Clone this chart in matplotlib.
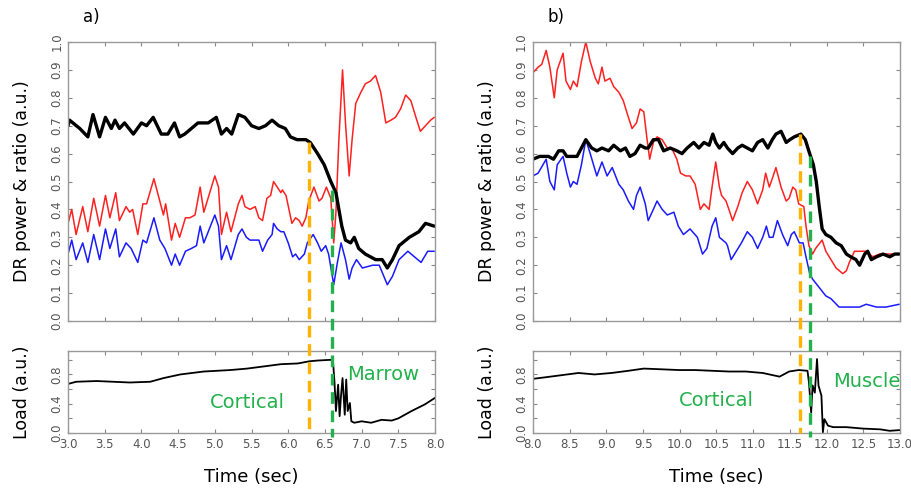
import numpy as np
import matplotlib
matplotlib.use("Agg")
import matplotlib.pyplot as plt
from matplotlib.lines import Line2D

# ---- panel a: 3-8 s, cortical -> marrow ----
a_black_t = [3.00, 3.02, 3.16, 3.27, 3.34, 3.43, 3.51, 3.59, 3.64, 3.70, 3.77, 3.89, 4.00, 4.07,
             4.16, 4.27, 4.36, 4.45, 4.52, 4.59, 4.68, 4.77, 4.91, 5.02, 5.09, 5.16, 5.23, 5.32,
             5.41, 5.50, 5.60, 5.69, 5.78, 5.87, 5.96, 6.03, 6.12, 6.24, 6.30, 6.40, 6.49, 6.58,
             6.65, 6.69, 6.73, 6.78, 6.85, 6.90, 6.96, 7.05, 7.19, 7.28, 7.35, 7.42, 7.51, 7.65,
             7.78, 7.87, 7.99]
a_black_v = [0.70, 0.72, 0.69, 0.66, 0.74, 0.66, 0.73, 0.69, 0.72, 0.69, 0.71, 0.67, 0.71, 0.70,
             0.73, 0.67, 0.67, 0.71, 0.66, 0.67, 0.69, 0.71, 0.71, 0.73, 0.67, 0.69, 0.67, 0.74,
             0.73, 0.70, 0.69, 0.70, 0.72, 0.70, 0.69, 0.66, 0.65, 0.65, 0.64, 0.60, 0.56, 0.50,
             0.46, 0.40, 0.34, 0.29, 0.28, 0.30, 0.26, 0.24, 0.22, 0.22, 0.19, 0.22, 0.27, 0.30,
             0.32, 0.35, 0.34]

a_red_t = [3.00, 3.05, 3.11, 3.20, 3.27, 3.35, 3.43, 3.51, 3.57, 3.65, 3.70, 3.79, 3.84, 3.88,
           3.95, 4.02, 4.07, 4.17, 4.30, 4.33, 4.41, 4.46, 4.52, 4.60, 4.66, 4.73, 4.80, 4.85,
           5.00, 5.05, 5.09, 5.16, 5.22, 5.32, 5.37, 5.41, 5.48, 5.55, 5.60, 5.65, 5.71, 5.76,
           5.80, 5.85, 5.90, 5.92, 5.97, 6.01, 6.05, 6.10, 6.15, 6.19, 6.24, 6.28, 6.35, 6.42,
           6.46, 6.52, 6.58, 6.62, 6.65, 6.69, 6.74, 6.78, 6.83, 6.87, 6.92, 6.99, 7.05, 7.12,
           7.19, 7.26, 7.33, 7.40, 7.46, 7.53, 7.60, 7.67, 7.74, 7.80, 7.87, 7.94, 7.99]
a_red_v = [0.35, 0.40, 0.31, 0.41, 0.32, 0.44, 0.34, 0.45, 0.37, 0.46, 0.36, 0.41, 0.39, 0.40,
           0.31, 0.42, 0.42, 0.51, 0.38, 0.42, 0.29, 0.35, 0.30, 0.37, 0.37, 0.38, 0.48, 0.39,
           0.52, 0.48, 0.31, 0.39, 0.32, 0.42, 0.45, 0.41, 0.40, 0.41, 0.37, 0.36, 0.44, 0.45,
           0.50, 0.48, 0.46, 0.47, 0.45, 0.40, 0.35, 0.37, 0.36, 0.34, 0.37, 0.43, 0.48, 0.43,
           0.44, 0.48, 0.44, 0.28, 0.39, 0.65, 0.90, 0.71, 0.52, 0.65, 0.78, 0.82, 0.85, 0.86,
           0.88, 0.82, 0.71, 0.72, 0.73, 0.76, 0.81, 0.79, 0.73, 0.68, 0.70, 0.72, 0.73]

a_blue_t = [3.00, 3.05, 3.11, 3.20, 3.27, 3.35, 3.43, 3.51, 3.57, 3.65, 3.70, 3.79, 3.86, 3.95,
            4.02, 4.07, 4.17, 4.25, 4.32, 4.41, 4.46, 4.52, 4.60, 4.68, 4.75, 4.80, 4.85, 5.00,
            5.05, 5.09, 5.16, 5.22, 5.32, 5.37, 5.43, 5.48, 5.53, 5.60, 5.65, 5.72, 5.78, 5.80,
            5.85, 5.90, 5.94, 6.00, 6.06, 6.10, 6.15, 6.22, 6.26, 6.34, 6.40, 6.45, 6.51, 6.55,
            6.62, 6.67, 6.72, 6.78, 6.83, 6.87, 6.93, 7.01, 7.15, 7.24, 7.35, 7.42, 7.51, 7.63,
            7.72, 7.81, 7.90, 7.99]
a_blue_v = [0.24, 0.29, 0.22, 0.28, 0.21, 0.31, 0.22, 0.33, 0.26, 0.33, 0.23, 0.28, 0.26, 0.21,
            0.29, 0.28, 0.37, 0.29, 0.26, 0.20, 0.24, 0.20, 0.25, 0.26, 0.27, 0.34, 0.28, 0.38,
            0.34, 0.22, 0.27, 0.22, 0.31, 0.33, 0.30, 0.29, 0.29, 0.29, 0.25, 0.29, 0.31, 0.35,
            0.33, 0.32, 0.32, 0.28, 0.23, 0.24, 0.22, 0.24, 0.28, 0.31, 0.28, 0.25, 0.27, 0.24,
            0.13, 0.21, 0.28, 0.22, 0.15, 0.19, 0.22, 0.19, 0.20, 0.20, 0.13, 0.16, 0.22, 0.25,
            0.23, 0.21, 0.25, 0.25]

a_load_t = [3.00, 3.11, 3.39, 3.84, 4.12, 4.30, 4.53, 4.85, 5.21, 5.44, 5.67, 5.90, 6.13, 6.29,
            6.40, 6.58, 6.61, 6.63, 6.65, 6.68, 6.70, 6.72, 6.74, 6.77, 6.79, 6.81, 6.84, 6.86,
            6.90, 7.00, 7.13, 7.27, 7.41, 7.50, 7.68, 7.86, 8.00]
a_load_v = [0.67, 0.70, 0.71, 0.69, 0.70, 0.75, 0.80, 0.84, 0.86, 0.88, 0.91, 0.94, 0.95, 0.98,
            0.99, 1.00, 0.98, 0.70, 0.30, 0.66, 0.23, 0.52, 0.75, 0.25, 0.73, 0.30, 0.41, 0.16,
            0.14, 0.16, 0.14, 0.18, 0.17, 0.20, 0.30, 0.39, 0.48]

# ---- panel b: 8-13 s, cortical -> muscle ----
b_black_t = [8.00, 8.09, 8.16, 8.21, 8.28, 8.35, 8.41, 8.46, 8.53, 8.60, 8.66, 8.72, 8.80, 8.87,
             8.94, 9.03, 9.10, 9.19, 9.26, 9.32, 9.39, 9.46, 9.53, 9.57, 9.64, 9.71, 9.78, 9.87,
             9.96, 10.03, 10.10, 10.19, 10.26, 10.33, 10.40, 10.45, 10.49, 10.54, 10.60, 10.65,
             10.72, 10.79, 10.85, 10.92, 10.99, 11.06, 11.13, 11.20, 11.26, 11.31, 11.38, 11.45,
             11.50, 11.56, 11.65, 11.71, 11.77, 11.82, 11.86, 11.90, 11.94, 11.99, 12.06, 12.13,
             12.20, 12.27, 12.33, 12.40, 12.45, 12.52, 12.56, 12.61, 12.68, 12.77, 12.86, 12.93,
             12.99]
b_black_v = [0.58, 0.59, 0.59, 0.59, 0.58, 0.61, 0.61, 0.59, 0.59, 0.59, 0.62, 0.65, 0.62, 0.61,
             0.62, 0.61, 0.63, 0.61, 0.62, 0.59, 0.60, 0.63, 0.62, 0.62, 0.65, 0.65, 0.61, 0.62,
             0.61, 0.60, 0.62, 0.64, 0.62, 0.64, 0.63, 0.67, 0.64, 0.62, 0.64, 0.62, 0.60, 0.62,
             0.63, 0.62, 0.61, 0.64, 0.65, 0.62, 0.65, 0.67, 0.68, 0.64, 0.65, 0.66, 0.67, 0.65,
             0.60, 0.56, 0.50, 0.41, 0.33, 0.31, 0.30, 0.28, 0.27, 0.24, 0.23, 0.22, 0.20, 0.24,
             0.25, 0.22, 0.23, 0.24, 0.23, 0.24, 0.24]

b_red_t = [8.00, 8.07, 8.12, 8.18, 8.23, 8.29, 8.33, 8.41, 8.45, 8.51, 8.55, 8.60, 8.66, 8.72,
           8.78, 8.85, 8.89, 8.94, 8.98, 9.05, 9.10, 9.17, 9.23, 9.30, 9.35, 9.41, 9.46, 9.51,
           9.55, 9.59, 9.64, 9.69, 9.76, 9.83, 9.89, 9.96, 10.01, 10.08, 10.14, 10.21, 10.28,
           10.33, 10.40, 10.44, 10.49, 10.54, 10.57, 10.63, 10.67, 10.72, 10.79, 10.85, 10.92,
           10.99, 11.06, 11.13, 11.17, 11.22, 11.26, 11.31, 11.38, 11.45, 11.49, 11.54, 11.58,
           11.62, 11.69, 11.72, 11.76, 11.81, 11.85, 11.94, 11.99, 12.06, 12.13, 12.22, 12.27,
           12.31, 12.38, 12.45, 12.54, 12.63, 12.72, 12.81, 12.90, 12.99]
b_red_v = [0.89, 0.91, 0.92, 0.97, 0.91, 0.80, 0.90, 0.96, 0.86, 0.83, 0.86, 0.84, 0.93, 1.00,
           0.93, 0.87, 0.85, 0.91, 0.86, 0.87, 0.84, 0.82, 0.79, 0.73, 0.69, 0.71, 0.76, 0.75,
           0.66, 0.58, 0.64, 0.66, 0.65, 0.62, 0.62, 0.58, 0.53, 0.52, 0.52, 0.49, 0.40, 0.42,
           0.40, 0.48, 0.57, 0.48, 0.45, 0.43, 0.40, 0.36, 0.41, 0.46, 0.50, 0.47, 0.42, 0.47,
           0.53, 0.48, 0.51, 0.55, 0.48, 0.43, 0.44, 0.48, 0.47, 0.42, 0.41, 0.34, 0.27, 0.24,
           0.26, 0.29, 0.25, 0.22, 0.19, 0.17, 0.18, 0.21, 0.25, 0.25, 0.25, 0.23, 0.24, 0.24,
           0.24, 0.24]

b_blue_t = [8.00, 8.07, 8.18, 8.23, 8.29, 8.33, 8.41, 8.46, 8.51, 8.55, 8.60, 8.66, 8.72, 8.78,
            8.87, 8.94, 9.01, 9.08, 9.17, 9.23, 9.30, 9.37, 9.41, 9.46, 9.53, 9.57, 9.64, 9.69,
            9.76, 9.83, 9.92, 9.98, 10.05, 10.14, 10.24, 10.31, 10.37, 10.44, 10.49, 10.54, 10.63,
            10.65, 10.70, 10.77, 10.84, 10.92, 10.99, 11.06, 11.13, 11.18, 11.22, 11.27, 11.33,
            11.40, 11.47, 11.52, 11.56, 11.63, 11.68, 11.72, 11.77, 11.81, 11.90, 11.99, 12.06,
            12.17, 12.31, 12.45, 12.54, 12.68, 12.81, 12.99]
b_blue_v = [0.52, 0.53, 0.58, 0.50, 0.47, 0.56, 0.59, 0.53, 0.48, 0.50, 0.49, 0.56, 0.65, 0.60,
            0.52, 0.57, 0.52, 0.55, 0.49, 0.47, 0.43, 0.40, 0.45, 0.48, 0.42, 0.36, 0.40, 0.43,
            0.40, 0.38, 0.39, 0.34, 0.31, 0.33, 0.30, 0.24, 0.26, 0.34, 0.37, 0.30, 0.28, 0.27,
            0.22, 0.25, 0.28, 0.32, 0.30, 0.26, 0.30, 0.34, 0.30, 0.30, 0.36, 0.31, 0.27, 0.31,
            0.32, 0.28, 0.28, 0.23, 0.17, 0.15, 0.12, 0.09, 0.08, 0.05, 0.05, 0.05, 0.06, 0.05,
            0.05, 0.06]

b_load_t = [8.00, 8.16, 8.39, 8.62, 8.84, 9.07, 9.30, 9.51, 9.76, 9.99, 10.21, 10.44, 10.67,
            10.90, 11.13, 11.36, 11.49, 11.62, 11.74, 11.76, 11.79, 11.81, 11.84, 11.87, 11.89,
            11.93, 11.95, 11.97, 12.02, 12.09, 12.27, 12.50, 12.73, 12.86, 13.00]
b_load_v = [0.74, 0.76, 0.79, 0.82, 0.80, 0.82, 0.85, 0.88, 0.87, 0.86, 0.86, 0.85, 0.84,
            0.84, 0.82, 0.77, 0.84, 0.86, 0.85, 0.69, 0.28, 0.65, 0.55, 1.01, 0.65, 0.51, 0.01,
            0.19, 0.10, 0.08, 0.08, 0.06, 0.05, 0.03, 0.04]

# event markers: (time, top of dashed line in the upper plot)
a_events = [(6.28, 0.64), (6.60, 0.47)]
b_events = [(11.64, 0.67), (11.77, 0.59)]
event_colors = ['#ffb300', '#22b14c']
event_ends = [0.0, -0.06]   # lower end, in load units

a_xticks = np.arange(3.0, 8.01, 0.5)
b_xticks = np.arange(8.0, 13.01, 0.5)
top_yticks = np.arange(0, 1.01, 0.1)
load_yticks = [0.0, 0.2, 0.4, 0.6, 0.8, 1.0]

GREEN = '#22b14c'
TICK_GRAY = '#555555'

fig = plt.figure(figsize=(9.12, 4.88), dpi=100)


def style(ax, xticks, xlim, ylim, yticks, ylabels, show_x):
    ax.set_xlim(*xlim)
    ax.set_ylim(*ylim)
    ax.set_xticks(xticks)
    ax.set_yticks(yticks)
    ax.set_yticklabels(ylabels, rotation=90, va='center')
    if show_x:
        ax.set_xticklabels(['%.1f' % t for t in xticks])
    else:
        ax.set_xticklabels([])
    ax.tick_params(direction='in', top=True, right=True, length=3, width=0.8,
                   colors='#888888', labelcolor=TICK_GRAY, labelsize=8.5)
    for sp in ax.spines.values():
        sp.set_color('#999999')
        sp.set_linewidth(1.0)


def to_fig(ax, xy):
    # data point of one axes -> figure fraction
    return fig.transFigure.inverted().transform(ax.transData.transform(xy))


def panel(left, xlim, xticks, black, red, blue, load, events, tag, texts):
    top = fig.add_axes([left, 0.3422, 0.4024, 0.5717])
    bot = fig.add_axes([left, 0.1127, 0.4024, 0.168])

    kw = dict(solid_joinstyle='round', solid_capstyle='round')
    top.plot(red[0], red[1], color='#ff2020', lw=1.1, **kw)
    top.plot(blue[0], blue[1], color='#1a1aff', lw=1.1, **kw)
    top.plot(black[0], black[1], color='black', lw=2.4, **kw)
    style(top, xticks, xlim, (0, 1.0), top_yticks,
          ['%.1f' % v for v in top_yticks], False)
    top.set_ylabel('DR power & ratio (a.u.)', fontsize=12.5, labelpad=14)

    bot.plot(load[0], load[1], color='black', lw=1.3, **kw)
    style(bot, xticks, xlim, (0, 1.12), load_yticks,
          ['0.0', '', '0.4', '', '0.8', ''], True)
    bot.set_ylabel('Load (a.u.)', fontsize=12.5, labelpad=14)
    bot.set_xlabel('Time (sec)', fontsize=13, labelpad=12)

    # dashed event markers running from the upper plot down through the load plot
    for (t, y0), c, yend in zip(events, event_colors, event_ends):
        p0 = to_fig(top, (t, y0))
        p1 = to_fig(bot, (t, yend))
        fig.add_artist(Line2D([p0[0], p1[0]], [p0[1], p1[1]],
                              transform=fig.transFigure, color=c, lw=2.4,
                              linestyle=(0, (3.5, 2)), zorder=10))

    top.text(0.04, 1.07, tag, transform=top.transAxes, fontsize=12)
    for s, x, y in texts:
        bot.text(x, y, s, color=GREEN, fontsize=14, ha='center', va='center')
    return top, bot


panel(0.0746, (3.0, 8.0), a_xticks,
      (a_black_t, a_black_v), (a_red_t, a_red_v), (a_blue_t, a_blue_v),
      (a_load_t, a_load_v), a_events, 'a)',
      [('Cortical', 5.45, 0.42), ('Marrow', 7.3, 0.8)])
panel(0.5844, (8.0, 13.0), b_xticks,
      (b_black_t, b_black_v), (b_red_t, b_red_v), (b_blue_t, b_blue_v),
      (b_load_t, b_load_v), b_events, 'b)',
      [('Cortical', 10.5, 0.45), ('Muscle', 12.55, 0.7)])

fig.savefig('out.png', dpi=100)
